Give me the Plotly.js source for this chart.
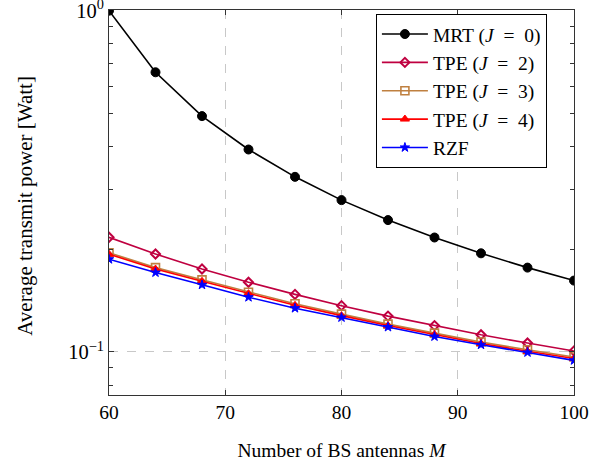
<!DOCTYPE html>
<html>
<head>
<meta charset="utf-8">
<script src="https://cdn.plot.ly/plotly-3.0.1.min.js"></script>
<style>html,body{margin:0;padding:0;background:#fff;}#chart{width:609px;height:464px;}</style>
</head>
<body>
<div id="chart"></div>
<script>
// Data
const antennas = [60, 64, 68, 72, 76, 80, 84, 88, 92, 96, 100];
const mrt  = [1.000, 0.660, 0.491, 0.392, 0.326, 0.2786, 0.2435, 0.2165, 0.1946, 0.1767, 0.1619];
const tpe2 = [0.2168, 0.1937, 0.1751, 0.1601, 0.1475, 0.1367, 0.1274, 0.1195, 0.1123, 0.1062, 0.1007];
const tpe3 = [0.1954, 0.1767, 0.1627, 0.1497, 0.1384, 0.1291, 0.1207, 0.1136, 0.1070, 0.1015, 0.0967];
const tpe4 = [0.1935, 0.1750, 0.1611, 0.1482, 0.1370, 0.1278, 0.1195, 0.1125, 0.1059, 0.1005, 0.0957];
const rzf  = [0.1869, 0.1709, 0.1573, 0.1447, 0.1344, 0.1262, 0.1183, 0.1110, 0.1050, 0.0997, 0.0945];
const sp = '\u2002';
const seriesNames = [
  'MRT (<i>J</i>' + sp + '=' + sp + '0)',
  'TPE (<i>J</i>' + sp + '=' + sp + '2)',
  'TPE (<i>J</i>' + sp + '=' + sp + '3)',
  'TPE (<i>J</i>' + sp + '=' + sp + '4)',
  'RZF'
];
const xTicks = [60, 70, 80, 90, 100];
const yTicks = [0.1, 1];
const yTickText = ['10<sup>−1</sup>', '10<sup>0</sup>'];
const yMinor = [0.08, 0.09, 0.2, 0.3, 0.4, 0.5, 0.6, 0.7, 0.8, 0.9];

const serif = '"Liberation Serif", "DejaVu Serif", serif';
const fs = 19.5;

function tr(y, name, color, symbol, size, lw) {
  return {
    x: antennas, y: y, name: name, type: 'scatter', mode: 'lines+markers',
    line: {color: color, width: 1.6},
    marker: {symbol: symbol, size: size, color: color, line: {color: color, width: lw}}
  };
}

const data = [
  tr(mrt, seriesNames[0], '#000000', 'circle', 9, 1),
  tr(tpe2, seriesNames[1], '#bf0040', 'diamond-open', 7, 2),
  tr(tpe3, seriesNames[2], '#bf8040', 'square-open', 8, 1.6),
  tr(tpe4, seriesNames[3], '#ff0000', 'triangle-up', 8, 1),
  tr(rzf, seriesNames[4], '#0000ff', 'star', 7, 1)
];

const layout = {
  width: 609, height: 464,
  margin: {l: 109, r: 35, t: 10, b: 68.5},
  paper_bgcolor: '#fff', plot_bgcolor: '#fff',
  font: {family: serif, size: fs, color: '#000'},
  showlegend: true,
  legend: {
    x: 0.574, y: 0.99, xanchor: 'left', yanchor: 'top',
    bgcolor: '#ffffff', bordercolor: '#000', borderwidth: 1,
    font: {family: serif, size: 19.5, color: '#000'},
    itemwidth: 46
  },
  xaxis: {
    range: [60, 100], tickmode: 'array', tickvals: xTicks,
    ticks: 'inside', ticklen: 5, tickcolor: '#333', tickwidth: 1,
    showline: true, linecolor: '#333', linewidth: 1, mirror: 'ticks',
    showgrid: true, gridcolor: '#c8c8c8', griddash: 'dash', gridwidth: 1,
    zeroline: false,
    tickfont: {family: serif, size: fs},
    title: {text: 'Number of BS antennas <i>M</i>', font: {family: serif, size: fs}, standoff: 20}
  },
  yaxis: {
    type: 'log', range: [-1.126, 0.002],
    tickmode: 'array', tickvals: yTicks, ticktext: yTickText,
    ticks: 'inside', ticklen: 5, tickcolor: '#333', tickwidth: 1,
    ticklabeloverflow: 'allow',
    showline: true, linecolor: '#333', linewidth: 1, mirror: 'ticks',
    showgrid: true, gridcolor: '#c8c8c8', griddash: 'dash', gridwidth: 1,
    zeroline: false,
    minor: {tickmode: 'array', tickvals: yMinor, ticks: 'inside', ticklen: 4, tickcolor: '#333', showgrid: false},
    tickfont: {family: serif, size: 20.5}
  },
  annotations: [{
    xref: 'paper', yref: 'paper', x: -0.1805, y: 0.4916, xanchor: 'center', yanchor: 'middle',
    textangle: -90, showarrow: false,
    text: 'Average transmit power [Watt]',
    font: {family: serif, size: 21, color: '#000'}
  }, {
    xref: 'paper', yref: 'paper', x: -0.24, y: -0.163, xanchor: 'left', yanchor: 'top',
    showarrow: false, align: 'left',
    text: 'Fig. 1.   Transmit power versus <i>M</i> when <i>K</i> = 30, <i>ρ</i> = 0, and <b>I</b> = <b>I</b>',
    font: {family: serif, size: 19, color: '#000'}
  }]
};

Plotly.newPlot('chart', data, layout, {displayModeBar: false, staticPlot: true});
</script>
</body>
</html>
